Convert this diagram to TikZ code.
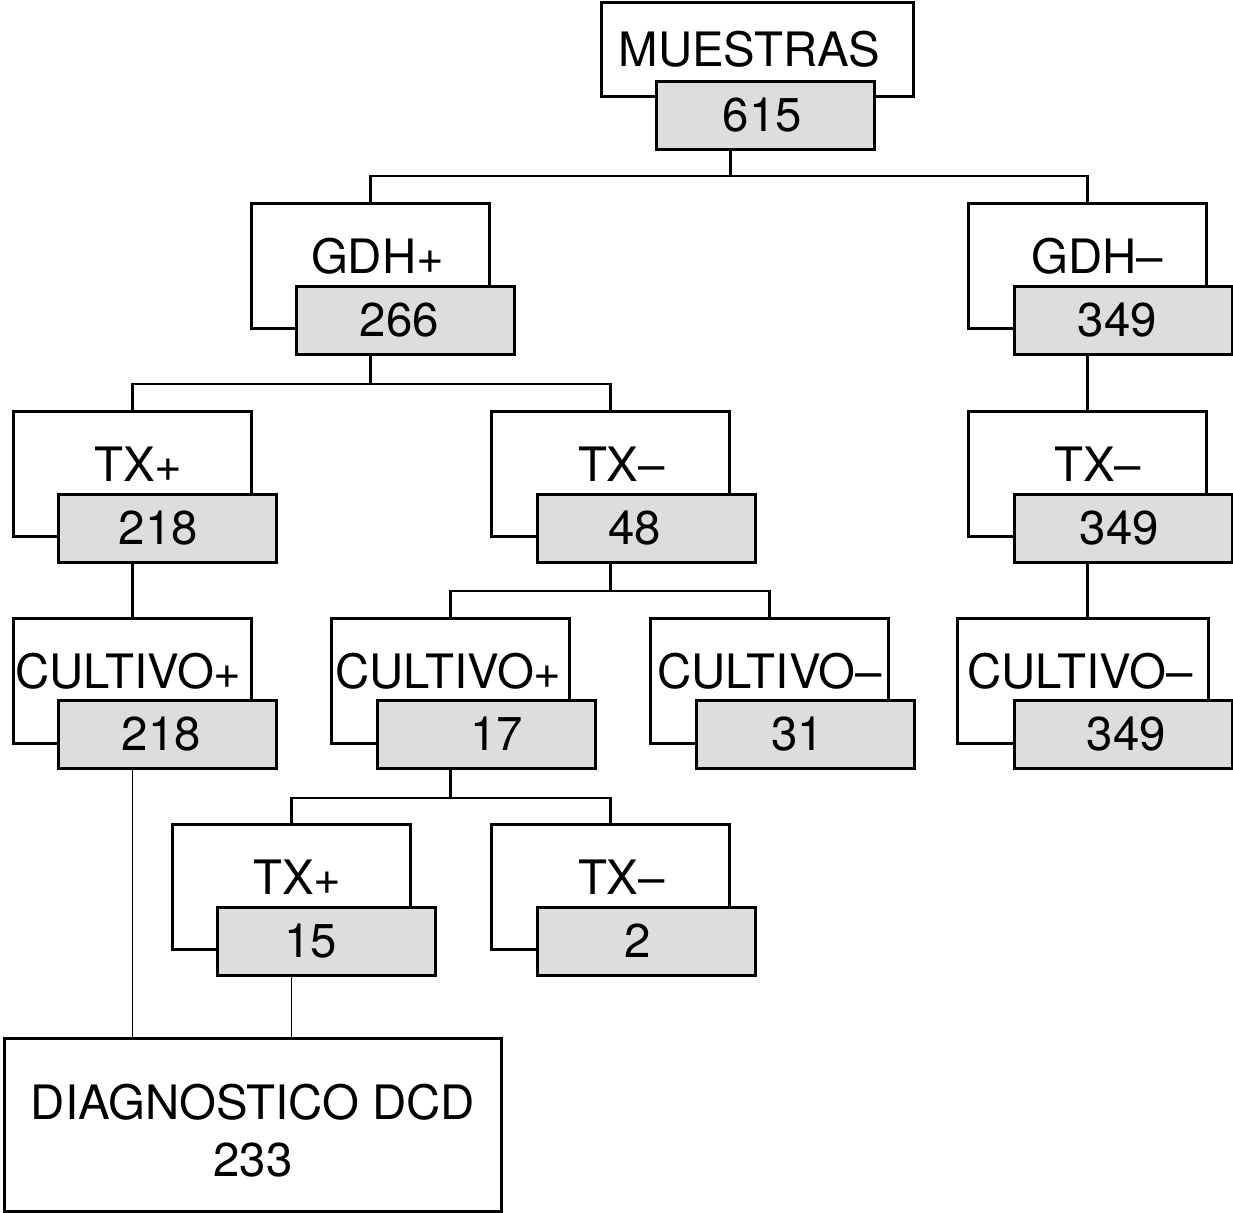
\documentclass[tikz,border=0pt]{standalone}
\usepackage{fontspec}
\setmainfont{TeX Gyre Heros}
\definecolor{numgray}{RGB}{220,221,222}
\tikzset{
  labbox/.style={draw,line width=1.5pt,fill=white,anchor=north west,inner sep=0pt,
    minimum width=119pt,text height=35pt,text depth=27.5pt,
    font=\fontsize{23.7pt}{28.5pt}\selectfont},
  numbox/.style={draw,line width=1.5pt,fill=numgray,anchor=north west,inner sep=0pt,
    minimum width=109pt,text height=25pt,text depth=9pt,
    font=\fontsize{23.7pt}{28.5pt}\selectfont},
  tshift/.style={execute at begin node={\hspace*{#1}}},
  link/.style={line width=1.1pt},
  thinlink/.style={line width=0.75pt}
}
\begin{document}
\begin{tikzpicture}[x=0.5pt,y=-0.5pt]
   \useasboundingbox (0,0) rectangle (1233,1212);
   % white boxes first, grey number boxes on top
   \node[labbox,minimum width=156pt,text height=32pt,text depth=15pt,tshift=-8pt] (muestras) at (600,1) {MUESTRAS};
   \node[numbox,tshift=-3pt] (n615) at (655,80) {615};
   \node[labbox,tshift=7pt] (gdhpos) at (250,202) {GDH+};
   \node[numbox,tshift=-6pt] (n266) at (295,285) {266};
   \node[labbox,tshift=10pt] (gdhneg) at (967,202) {GDH–};
   \node[numbox,tshift=-6pt] (n349a) at (1013,285) {349};
   %
   \node[labbox,tshift=6pt] (txpos) at (12,410) {TX+};
   \node[numbox,tshift=-9pt] (n218a) at (57,493) {218};
   \node[labbox,tshift=11pt] (txneg) at (490,410) {TX–};
   \node[numbox,tshift=-12pt] (n48) at (536,493) {48};
   \node[labbox,tshift=10pt] (txnegb) at (967,410) {TX–};
   \node[numbox,tshift=-4pt] (n349b) at (1013,493) {349};
   %
   \node[labbox,tshift=-4pt] (cultpos) at (12,617) {CULTIVO+};
   \node[numbox,tshift=-6pt] (n218b) at (57,699) {218};
   \node[labbox,tshift=-2pt] (cultposb) at (330,617) {CULTIVO+};
   \node[numbox,tshift=10pt] (n17) at (376,699) {17};
   \node[labbox] (cultneg) at (649,617) {CULTIVO–};
   \node[numbox,tshift=-8pt] (n31) at (695,699) {31};
   \node[labbox,minimum width=125.5pt,tshift=-3pt] (cultnegb) at (956,617) {CULTIVO–};
   \node[numbox,tshift=3pt] (n349c) at (1013,699) {349};
   %
   \node[labbox,tshift=6pt] (txposb) at (171,823) {TX+};
   \node[numbox,tshift=-16pt] (n15) at (216,906) {15};
   \node[labbox,tshift=11pt] (txnegc) at (490,823) {TX–};
   \node[numbox,tshift=-9pt] (n2) at (536,906) {2};
   %
   \node[draw,line width=1.5pt,anchor=north west,inner sep=0pt,minimum width=248.5pt,
     minimum height=86.5pt,align=center,font=\fontsize{23.7pt}{28.5pt}\selectfont]
     (diag) at (3,1037) {\rule{0pt}{23.5pt}DIAGNOSTICO DCD\\233};
   % connectors
   \draw[link] ([xshift=-17.5pt]n615.south) -- ++(0,25) coordinate (b1)
      -| (gdhpos.north) (b1) -| (gdhneg.north);
   \draw[link] (gdhpos |- n266.south) -- ++(0,28) coordinate (b2)
      -| (txpos.north) (b2) -| (txneg.north);
   \draw[link] (gdhneg |- n349a.south) -- (txnegb.north);
   \draw[link] (txpos |- n218a.south) -- (cultpos.north);
   \draw[link] (txneg |- n48.south) -- ++(0,27) coordinate (b3)
      -| (cultposb.north) (b3) -| (cultneg.north);
   \draw[link] (txnegb |- n349b.south) -- (txnegb |- cultnegb.north);
   \draw[link] (cultposb |- n17.south) -- ++(0,28) coordinate (b4)
      -| (txposb.north) (b4) -| (txnegc.north);
   \draw[thinlink] (cultpos |- n218b.south) -- (cultpos |- diag.north);
   \draw[thinlink] (txposb |- n15.south) -- (txposb |- diag.north);
\end{tikzpicture}
\end{document}
